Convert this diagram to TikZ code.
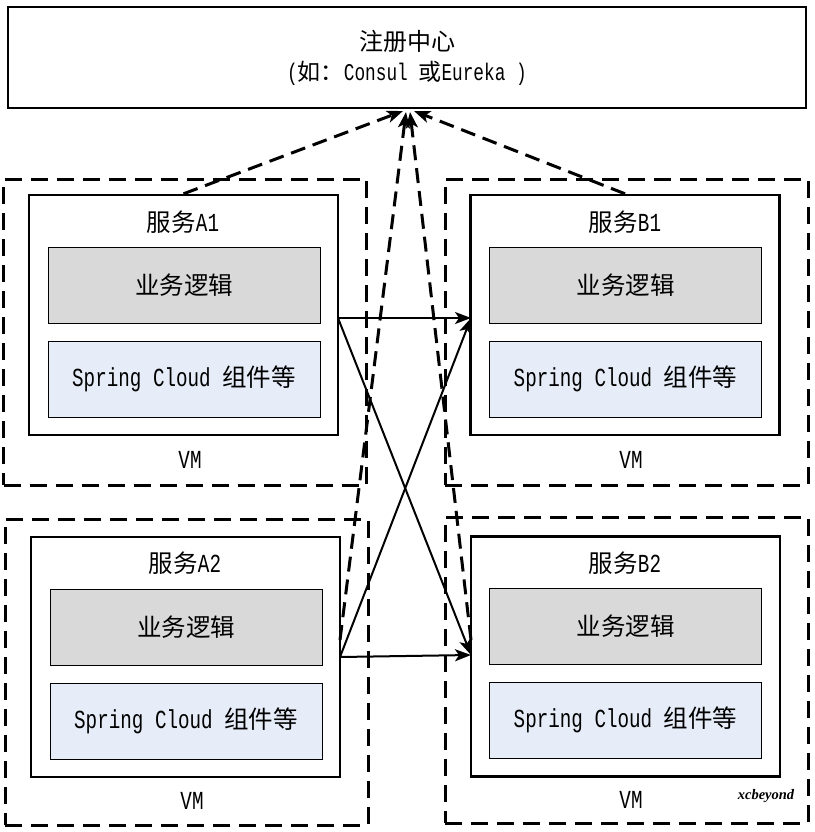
\documentclass[tikz,border=0pt]{standalone}
\usepackage{fontspec}
\setmainfont{Liberation Mono}[FakeStretch=0.74]
\newfontfamily\cjk{Noto Sans CJK SC}
\newfontfamily\wmfont{Liberation Serif}
\usetikzlibrary{arrows.meta}
\definecolor{bizgray}{RGB}{217,217,217}
\definecolor{sclblue}{RGB}{230,237,248}
\newcommand{\zh}[1]{{\cjk\fontsize{24.5}{28}\selectfont #1}}
\begin{document}
\begin{tikzpicture}[x=1pt,y=-1pt,
  vmbox/.style={draw, line width=3pt, dash pattern=on 17pt off 9pt, minimum width=363pt, minimum height=306pt, inner sep=0pt},
  svcbox/.style={draw, line width=2.4pt, minimum width=309pt, minimum height=240pt, inner sep=0pt},
  bizbox/.style={draw, line width=0.8pt, fill=bizgray, minimum width=272pt, minimum height=76pt, inner sep=0pt, font=\fontsize{26}{28}\selectfont},
  sclbox/.style={draw, line width=0.8pt, fill=sclblue, minimum width=272pt, minimum height=76pt, inner sep=0pt, font=\fontsize{26}{28}\selectfont},
  ttl/.style={inner sep=0pt, font=\fontsize{26}{28}\selectfont},
  vmlbl/.style={inner sep=0pt, font=\fontsize{26}{28}\selectfont},
  call/.style={line width=2pt, -{Stealth[length=16pt,width=12pt,inset=4pt]}},
  reg/.style={line width=3pt, dash pattern=on 15pt off 8pt, -{Stealth[length=16pt,width=12pt,inset=4pt]}}
]
\useasboundingbox (0,0) rectangle (814,832);
\fill[white] (0,0) rectangle (814,832);

% registry
\node[draw, line width=2.5pt, minimum width=798pt, minimum height=101pt, inner sep=0pt, align=center,
      font=\fontsize{24}{30}\selectfont] (regc) at (407,57.5)
  {{\cjk\fontsize{24}{28}\selectfont 注册中心}\\({\cjk\fontsize{23}{28}\selectfont 如：}Consul {\cjk\fontsize{23}{28}\selectfont 或}Eureka )};

% VM boxes
\node[vmbox] (vmA1) at (185,332) {};
\node[vmbox] (vmB1) at (626.5,332) {};
\node[vmbox] (vmA2) at (186.5,672) {};
\node[vmbox] (vmB2) at (626.5,670) {};

% service boxes
\node[svcbox] (sA1) at (183.5,315) {};
\node[svcbox] (sB1) at (625,315) {};
\node[svcbox] (sA2) at (185.5,657) {};
\node[svcbox] (sB2) at (625.5,656.5) {};

% titles
\node[ttl] (tA1) at (183,222) {\zh{服务}A1};
\node[ttl] (tB1) at (625,222) {\zh{服务}B1};
\node[ttl] (tA2) at (185,563) {\zh{服务}A2};
\node[ttl] (tB2) at (625,563) {\zh{服务}B2};

% inner boxes
\node[bizbox] (bA1) at (184,285) {\zh{业务逻辑}};
\node[sclbox] (cA1) at (184,379) {Spring Cloud \zh{组件等}};
\node[bizbox] (bB1) at (625.5,285) {\zh{业务逻辑}};
\node[sclbox] (cB1) at (625.5,379) {Spring Cloud \zh{组件等}};
\node[bizbox] (bA2) at (186,627) {\zh{业务逻辑}};
\node[sclbox] (cA2) at (186,721) {Spring Cloud \zh{组件等}};
\node[bizbox] (bB2) at (625.5,626) {\zh{业务逻辑}};
\node[sclbox] (cB2) at (625.5,720) {Spring Cloud \zh{组件等}};

% VM labels
\node[vmlbl] (lA1) at (190,460) {VM};
\node[vmlbl] (lB1) at (631,460) {VM};
\node[vmlbl] (lA2) at (192,801) {VM};
\node[vmlbl] (lB2) at (631,800) {VM};

% watermark
\node[inner sep=0pt, font=\wmfont\bfseries\itshape\fontsize{14.5}{16}\selectfont] (wm) at (766,796) {xcbeyond};

% connection points
\coordinate (a1o) at (338,318);
\coordinate (b1i) at (471,318);
\coordinate (a2o) at (340,657);
\coordinate (b2i) at (471,655);
\coordinate (a2r) at (340,640);
\coordinate (b2l) at (471,640);
\coordinate (rg1) at (403,111);
\coordinate (rg2) at (406,112);
\coordinate (rg3) at (410,112);
\coordinate (rg4) at (414,111);

% calls
\draw[call] (a1o) -- (b1i);
\draw[call] (a1o) -- (b2i);
\draw[call] (a2o) -- (b1i);
\draw[call] (a2o) -- (b2i);

% registrations
\draw[reg] (sA1.north) -- (rg1);
\draw[reg] (sB1.north) -- (rg4);
\draw[reg] (a2r) -- (rg2);
\draw[reg] (b2l) -- (rg3);
\end{tikzpicture}
\end{document}
